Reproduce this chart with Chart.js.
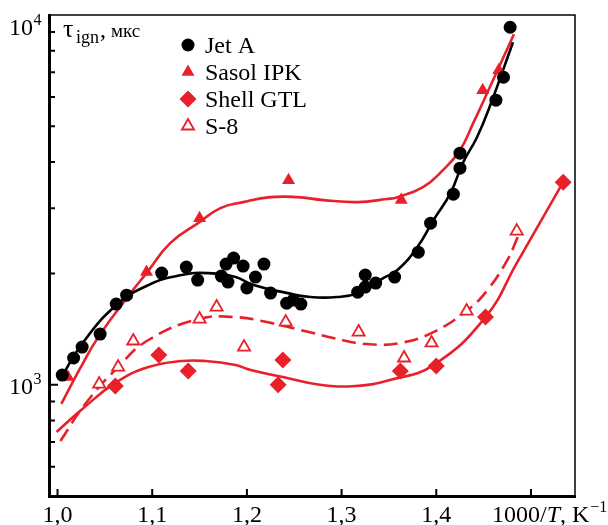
<!DOCTYPE html>
<html>
<head>
<meta charset="utf-8">
<script src="https://cdn.jsdelivr.net/npm/chart.js@4.4.1/dist/chart.umd.min.js"></script>
<style>
  html, body { margin: 0; padding: 0; background: #fff; }
  #wrap { width: 608px; height: 525px; }
</style>
</head>
<body>
<div id="wrap"><canvas id="chart"></canvas></div>
<script>
const RED = '#e8202a';
const FONT = '"Liberation Serif", "DejaVu Serif", serif';

// measured points, 1000/T (K^-1) vs ignition delay (mks)
const jetAX = [1.005, 1.017, 1.026, 1.045, 1.062, 1.073, 1.110, 1.136, 1.148, 1.173, 1.178, 1.186, 1.180, 1.196, 1.200, 1.209, 1.218, 1.225, 1.242, 1.249, 1.257, 1.317, 1.325, 1.325, 1.336, 1.356, 1.381, 1.394, 1.418, 1.425, 1.425, 1.463, 1.471, 1.478];
const jetAY = [1062, 1181, 1264, 1371, 1652, 1747, 2004, 2080, 1919, 1967, 2120, 2200, 1895, 2093, 1826, 1955, 2120, 1769, 1662, 1694, 1652, 1780, 1837, 1980, 1883, 1955, 2283, 2735, 3277, 3852, 4229, 5884, 6786, 9264];

const sasolX = [1.011, 1.094, 1.150, 1.244, 1.363, 1.449, 1.466];
const sasolY = [1049, 2017, 2822, 3575, 3157, 6260, 7087];

const shellX = [1.061, 1.107, 1.138, 1.233, 1.238, 1.362, 1.400, 1.452, 1.534];
const shellY = [992, 1203, 1089, 1000, 1166, 1089, 1123, 1524, 3530];

const s8X = [1.044, 1.064, 1.080, 1.150, 1.168, 1.197, 1.241, 1.318, 1.366, 1.395, 1.432, 1.485];
const s8Y = [1004, 1116, 1313, 1505, 1622, 1264, 1477, 1388, 1181, 1297, 1582, 2603];

// fitted curves
const jetAFitX = [1.0025, 1.025, 1.061, 1.096, 1.131, 1.159, 1.188, 1.207, 1.243, 1.267, 1.295, 1.317, 1.344, 1.359, 1.380, 1.397, 1.415, 1.428, 1.443, 1.457, 1.481];
const jetAFitY = [1030, 1280, 1632, 1860, 1980, 2004, 1955, 1860, 1769, 1726, 1726, 1769, 1943, 2042, 2356, 2787, 3297, 3974, 4672, 5702, 8437];

const sasolFitX = [1.004, 1.023, 1.043, 1.078, 1.094, 1.119, 1.150, 1.172, 1.196, 1.225, 1.253, 1.281, 1.317, 1.348, 1.359, 1.386, 1.407, 1.425, 1.439, 1.457, 1.482];
const sasolFitY = [887, 1096, 1345, 1780, 2004, 2415, 2753, 3003, 3118, 3216, 3216, 3157, 3118, 3180, 3216, 3422, 3804, 4308, 5098, 6418, 8867];

const shellFitX = [0.999, 1.025, 1.061, 1.096, 1.131, 1.156, 1.188, 1.204, 1.238, 1.277, 1.315, 1.351, 1.397, 1.452, 1.485, 1.534];
const shellFitY = [745, 854, 1011, 1116, 1159, 1159, 1130, 1096, 1049, 1000, 992, 1030, 1130, 1524, 2133, 3530];

const s8FitX = [1.003, 1.030, 1.064, 1.096, 1.149, 1.186, 1.221, 1.270, 1.291, 1.327, 1.362, 1.397, 1.433, 1.454, 1.475, 1.486];
const s8FitY = [704, 892, 1116, 1321, 1505, 1524, 1477, 1379, 1337, 1288, 1297, 1388, 1592, 1803, 2173, 2507];

// axes
const xTickValues = [1.0, 1.1, 1.2, 1.3, 1.4, 1.5];
const xTickLabels = ['1,0', '1,1', '1,2', '1,3', '1,4', ''];
const yMajorTicks = [1000, 10000];
const yMajorExp = ['3', '4'];
const yMinorTicks = [600, 700, 800, 900, 2000, 3000, 4000, 5000, 6000, 7000, 8000, 9000];

const legendItems = [
  { label: 'Jet A', style: 'circle', r: 6.5, fill: '#000', stroke: '#000', bw: 0 },
  { label: 'Sasol IPK', style: 'triangle', r: 7.5, fill: RED, stroke: RED, bw: 0 },
  { label: 'Shell GTL', style: 'diamond', r: 8.5, fill: RED, stroke: RED, bw: 0 },
  { label: 'S-8', style: 'triangle', r: 7, fill: '#fff', stroke: RED, bw: 1.8 },
];

const zip = (xs, ys) => xs.map((x, i) => ({ x: x, y: ys[i] }));

function marker(ctx, style, x, y, r, fill, stroke, bw) {
  ctx.beginPath();
  if (style === 'circle') {
    ctx.arc(x, y, r, 0, Math.PI * 2);
  } else if (style === 'triangle') {
    ctx.moveTo(x, y - r);
    ctx.lineTo(x + r * 0.866, y + r * 0.5);
    ctx.lineTo(x - r * 0.866, y + r * 0.5);
    ctx.closePath();
  } else {
    ctx.moveTo(x, y - r);
    ctx.lineTo(x + r, y);
    ctx.lineTo(x, y + r);
    ctx.lineTo(x - r, y);
    ctx.closePath();
  }
  ctx.fillStyle = fill;
  ctx.fill();
  if (bw > 0) {
    ctx.lineWidth = bw;
    ctx.strokeStyle = stroke;
    ctx.stroke();
  }
}

const decor = {
  id: 'decor',
  afterDraw(chart) {
    const ctx = chart.ctx;
    const xs = chart.scales.x;
    const ys = chart.scales.y;
    const a = chart.chartArea;
    ctx.save();

    // thin frame on top and right
    ctx.strokeStyle = '#000';
    ctx.lineWidth = 1.5;
    ctx.beginPath();
    ctx.moveTo(a.left, a.top);
    ctx.lineTo(a.right, a.top);
    ctx.lineTo(a.right, a.bottom);
    ctx.stroke();

    // inward ticks
    ctx.lineWidth = 2;
    ctx.beginPath();
    yMinorTicks.forEach((v) => {
      const py = ys.getPixelForValue(v);
      ctx.moveTo(a.left, py);
      ctx.lineTo(a.left + 6, py);
    });
    const p3 = ys.getPixelForValue(1000);
    ctx.moveTo(a.left, p3);
    ctx.lineTo(a.left + 9, p3);
    xTickValues.forEach((v) => {
      const px = xs.getPixelForValue(v);
      ctx.moveTo(px, a.bottom);
      ctx.lineTo(px, a.bottom - 7);
    });
    ctx.stroke();

    ctx.fillStyle = '#000';
    ctx.textBaseline = 'alphabetic';

    // x tick labels
    ctx.font = '24px ' + FONT;
    ctx.textAlign = 'center';
    xTickValues.forEach((v, i) => {
      if (xTickLabels[i]) ctx.fillText(xTickLabels[i], xs.getPixelForValue(v), 522);
    });

    // x axis title: 1000/T, K^-1
    ctx.textAlign = 'left';
    let tx = 492;
    ctx.font = '24px ' + FONT;
    ctx.fillText('1000/', tx, 522);
    tx += ctx.measureText('1000/').width;
    ctx.font = 'italic 24px ' + FONT;
    ctx.fillText('T', tx, 522);
    tx += ctx.measureText('T').width;
    ctx.font = '24px ' + FONT;
    ctx.fillText(', K', tx, 522);
    tx += ctx.measureText(', K').width;
    ctx.font = '16px ' + FONT;
    ctx.fillText('\u22121', tx + 1, 512);

    // y labels 10^3, 10^4
    yMajorTicks.forEach((v, i) => {
      const base = ys.getPixelForValue(v) + (v === 10000 ? 20 : 9);
      ctx.font = '24px ' + FONT;
      ctx.textAlign = 'right';
      ctx.fillText('10', 33, base);
      ctx.font = '16px ' + FONT;
      ctx.textAlign = 'left';
      ctx.fillText(yMajorExp[i], 33.5, base - 10);
    });

    // y axis title: tau_ign, mks
    ctx.textAlign = 'left';
    ctx.font = '26px ' + FONT;
    ctx.fillText('\u03c4', 63, 37);
    ctx.font = '18px ' + FONT;
    ctx.fillText('ign', 76, 43);
    ctx.font = '24px ' + FONT;
    ctx.fillText(',', 100, 37);
    ctx.font = '19px ' + FONT;
    ctx.fillText('\u043c\u043a\u0441', 111, 37);

    // legend
    legendItems.forEach((it, i) => {
      const cy = 45 + i * 27;
      marker(ctx, it.style, 188, cy, it.r, it.fill, it.stroke, it.bw);
      ctx.fillStyle = '#000';
      ctx.font = '24px ' + FONT;
      ctx.fillText(it.label, 205, cy + 8);
    });

    ctx.restore();
  },
};

const pointSet = (data, style, r, fill, stroke, bw) => ({
  type: 'scatter',
  data: data,
  showLine: false,
  pointStyle: style,
  pointRadius: r,
  pointHoverRadius: r,
  backgroundColor: fill,
  borderColor: stroke,
  borderWidth: bw,
});

const curveSet = (data, color, dash) => ({
  type: 'line',
  data: data,
  borderColor: color,
  borderWidth: 2.6,
  borderDash: dash,
  pointRadius: 0,
  fill: false,
  tension: 0.45,
});

new Chart(document.getElementById('chart'), {
  type: 'scatter',
  data: {
    datasets: [
      pointSet(zip(jetAX, jetAY), 'circle', 6.5, '#000', '#000', 0),
      pointSet(zip(sasolX, sasolY), 'triangle', 7.5, RED, RED, 0),
      pointSet(zip(shellX, shellY), 'rectRot', 8.5, RED, RED, 0),
      pointSet(zip(s8X, s8Y), 'triangle', 7, '#fff', RED, 1.8),
      curveSet(zip(jetAFitX, jetAFitY), '#000', []),
      curveSet(zip(sasolFitX, sasolFitY), RED, []),
      curveSet(zip(shellFitX, shellFitY), RED, []),
      curveSet(zip(s8FitX, s8FitY), RED, [14, 7]),
    ],
  },
  options: {
    responsive: true,
    maintainAspectRatio: false,
    animation: false,
    devicePixelRatio: 1,
    layout: { padding: { left: 0, right: 33, top: 15, bottom: 0 } },
    plugins: {
      legend: { display: false },
      tooltip: { enabled: false },
    },
    scales: {
      x: {
        type: 'linear',
        min: 0.991,
        max: 1.5465,
        grid: { display: false },
        border: { display: true, color: '#000', width: 3 },
        ticks: { display: false },
        afterFit: (s) => { s.height = 29; },
      },
      y: {
        type: 'logarithmic',
        min: 500,
        max: 10000,
        grid: { display: false },
        border: { display: true, color: '#000', width: 3 },
        ticks: { display: false },
        afterFit: (s) => { s.width = 49; },
      },
    },
  },
  plugins: [decor],
});
</script>
</body>
</html>
